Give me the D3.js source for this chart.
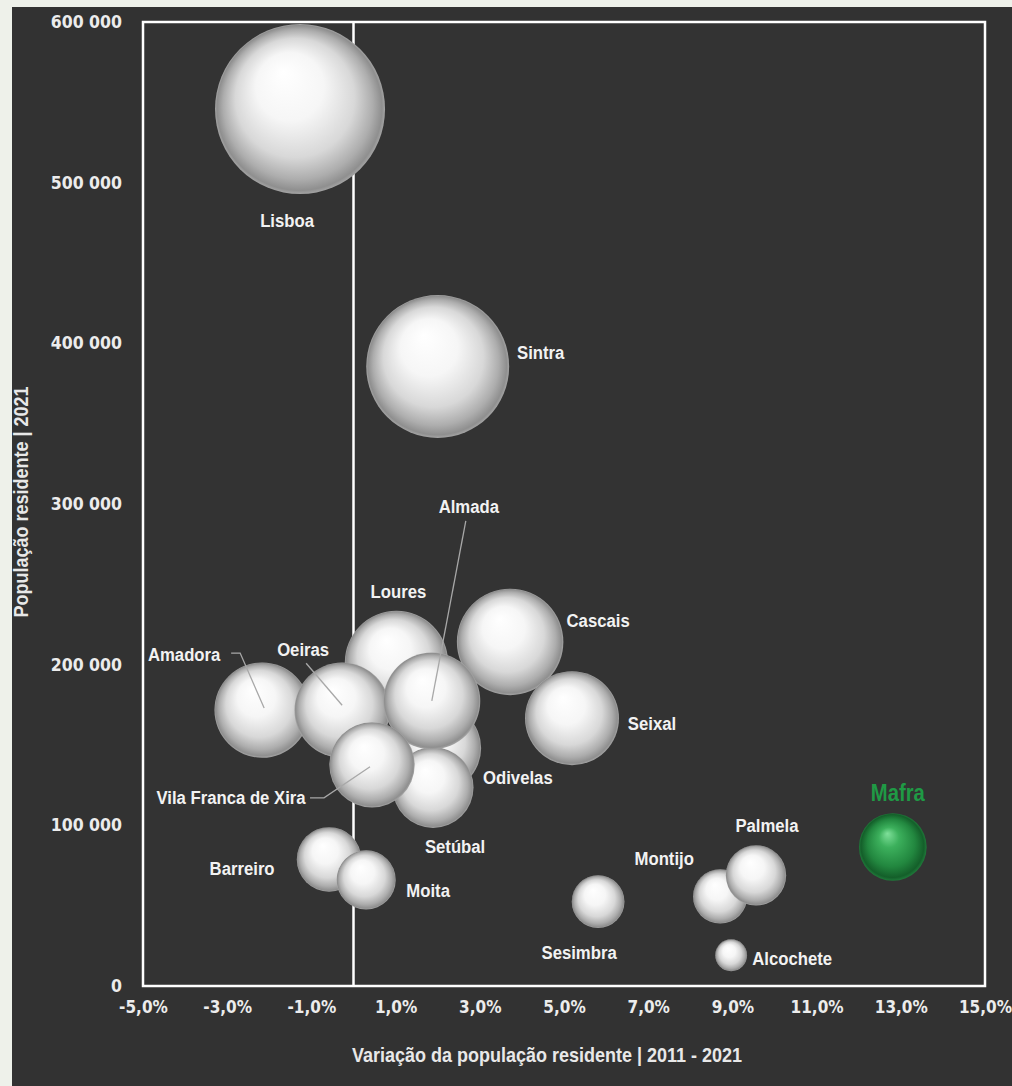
<!DOCTYPE html>
<html><head><meta charset="utf-8">
<script src="https://cdn.jsdelivr.net/npm/d3@7"></script>
<style>
html,body{margin:0;padding:0;background:#eef1ea;}
svg{display:block;}
.lab{font-family:"Liberation Sans","Arial",sans-serif;font-weight:bold;}
.tick{font-family:"DejaVu Sans Condensed","DejaVu Sans",sans-serif;font-weight:bold;}
</style></head>
<body>
<svg id="c" width="1012" height="1086"></svg>
<script>
// ---- data (draw order: back to front) ----
const names = ["Lisboa","Sintra","Cascais","Loures","Amadora","Oeiras","Odivelas","Setúbal","Almada","Vila Franca de Xira","Seixal","Barreiro","Moita","Montijo","Palmela","Sesimbra","Alcochete","Mafra"];
const variation = [-1.27, 2.0, 3.72, 1.02, -2.17, -0.27, 1.98, 1.89, 1.86, 0.44, 5.19, -0.58, 0.30, 8.71, 9.56, 5.81, 8.97, 12.81];
const population = [545796, 385606, 214158, 201349, 171719, 171658, 148156, 123548, 177400, 137659, 166693, 78764, 66029, 55732, 68879, 52465, 19148, 86523];
const highlight = ["Mafra"];
const xTicks = [-5, -3, -1, 1, 3, 5, 7, 9, 11, 13, 15];
const yTicks = [0, 100000, 200000, 300000, 400000, 500000, 600000];
const xTitle = "Variação da população residente | 2011 - 2021";
const yTitle = "População residente | 2021";

// ---- layout ----
const labelOffset = {
  "Lisboa":[-13,112],"Sintra":[103,-14],"Cascais":[88,-21],"Loures":[2,-71],
  "Amadora":[-78,-55],"Oeiras":[-39,-61],"Odivelas":[81,30],"Setúbal":[22,59],
  "Almada":[37,-194],"Vila Franca de Xira":[-141,33],"Seixal":[80,5],"Barreiro":[-87,9],
  "Moita":[62,11],"Montijo":[-56,-38],"Palmela":[11,-50],"Sesimbra":[-19,51],
  "Alcochete":[61,3],"Mafra":[5,-54]
};
// leader lines: points relative to bubble centre
const leaders = {
  "Amadora":[[-31,-57],[-22,-57],[2,-2]],
  "Oeiras":[[-36,-47],[0,-5]],
  "Almada":[[34,-180],[0,0]],
  "Vila Franca de Xira":[[-62,33],[-48,33],[-2,2]]
};
const NARROW = 0.88;

const svg = d3.select("#c");
const W = 1012, H = 1086;
const m = {left:143, right:985, top:22, bottom:986};

const x = d3.scaleLinear().domain([-5, 15]).range([m.left, m.right]);
const y = d3.scaleLinear().domain([0, 600000]).range([m.bottom, m.top]);
const r = d3.scaleSqrt().domain([0, 545796]).range([0, 85]);

// background panel
svg.append("rect").attr("x",0).attr("y",0).attr("width",W).attr("height",H).attr("fill","#eef1ea");
svg.append("rect").attr("x",12).attr("y",7).attr("width",W-12).attr("height",H-7).attr("fill","#323232");

// gradients
const defs = svg.append("defs");
const g1 = defs.append("radialGradient").attr("id","sph").attr("cx","50%").attr("cy","50%").attr("r","50%").attr("fx","40%").attr("fy","28%");
[[0,"#ffffff"],[0.4,"#f6f6f6"],[0.7,"#d8d8d8"],[0.88,"#adadad"],[0.97,"#8f8f8f"],[1,"#a4a4a4"]].forEach(s=>g1.append("stop").attr("offset",s[0]).attr("stop-color",s[1]));
const g2 = defs.append("radialGradient").attr("id","sphG").attr("cx","50%").attr("cy","50%").attr("r","50%").attr("fx","42%").attr("fy","30%");
[[0,"#7fe09a"],[0.3,"#3cb05c"],[0.7,"#22873f"],[0.93,"#145f2a"],[1,"#1f7a3a"]].forEach(s=>g2.append("stop").attr("offset",s[0]).attr("stop-color",s[1]));

// plot frame
svg.append("rect").attr("x",m.left).attr("y",m.top).attr("width",m.right-m.left).attr("height",m.bottom-m.top)
  .attr("fill","#333333").attr("stroke","#ffffff").attr("stroke-width",2.5);

// zero line
svg.append("line").attr("x1",x(0)).attr("x2",x(0)).attr("y1",m.top).attr("y2",m.bottom)
  .attr("stroke","#ffffff").attr("stroke-width",2.5);

// axes (labels only)
const xAxis = svg.append("g").attr("transform",`translate(0,${m.bottom})`)
  .call(d3.axisBottom(x).tickValues(xTicks).tickSize(0).tickPadding(15)
    .tickFormat(d => d.toFixed(1).replace(".", ",") + "%"));
xAxis.select(".domain").remove();
xAxis.selectAll("text").attr("class","tick").attr("fill","#ececec").attr("font-size",17);

const yAxis = svg.append("g").attr("transform",`translate(${m.left},0)`)
  .call(d3.axisLeft(y).tickValues(yTicks).tickSize(0).tickPadding(21)
    .tickFormat(d => d === 0 ? "0" : d3.format(",")(d).replace(/,/g, " ")));
yAxis.select(".domain").remove();
yAxis.selectAll("text").attr("class","tick").attr("fill","#ececec").attr("font-size",17.5);

// titles
svg.append("text").attr("class","lab")
  .attr("transform",`translate(547,1062) scale(0.9,1)`)
  .attr("text-anchor","middle").attr("fill","#e8e8e8").attr("font-size",20).text(xTitle);
svg.append("text").attr("class","lab").attr("transform",`translate(28,502) rotate(-90) scale(0.9,1)`)
  .attr("text-anchor","middle").attr("fill","#e8e8e8").attr("font-size",20).text(yTitle);

// bubbles
const data = names.map((n,i)=>({name:n, v:variation[i], p:population[i], hi: highlight.includes(n)}));
svg.append("g").selectAll("circle").data(data).join("circle")
  .attr("cx", d=>x(d.v)).attr("cy", d=>y(d.p)).attr("r", d=>r(d.p))
  .attr("fill", d=> d.hi ? "url(#sphG)" : "url(#sph)");

// leader lines
const lg = svg.append("g");
data.filter(d=>leaders[d.name]).forEach(d=>{
  const cx = x(d.v), cy = y(d.p);
  lg.append("polyline").attr("points", leaders[d.name].map(p=>[cx+p[0], cy+p[1]].join(",")).join(" "))
    .attr("fill","none").attr("stroke","#a8a8a8").attr("stroke-width",1.3);
});

// labels
svg.append("g").selectAll("text").data(data).join("text").attr("class","lab")
  .attr("transform", d=>`translate(${x(d.v)+labelOffset[d.name][0]},${y(d.p)+labelOffset[d.name][1]}) scale(${NARROW},1)`)
  .attr("text-anchor","middle").attr("dominant-baseline","central")
  .attr("fill", d=> d.hi ? "#1f9a45" : "#f2f2f2")
  .attr("font-size", d=> d.hi ? 23 : 19)
  .text(d=>d.name);
</script>
</body></html>
